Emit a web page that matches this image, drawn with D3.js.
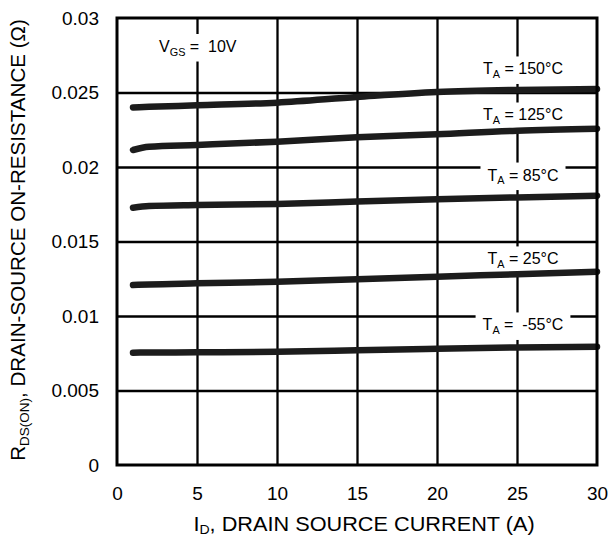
<!DOCTYPE html>
<html>
<head>
<meta charset="utf-8">
<script src="https://cdn.jsdelivr.net/npm/d3@7"></script>
<style>
  body { margin: 0; background: #fff; }
  svg { font-family: "Liberation Sans", Arial, sans-serif; }
</style>
</head>
<body>
<div id="chart"></div>
<script>
// drain current (A) where curves are sampled
const currents = [1, 2, 5, 10, 15, 20, 25, 30];
// on-resistance (ohm) per ambient temperature
const rds150 = [0.02400, 0.02404, 0.02414, 0.02432, 0.02470, 0.02503, 0.02517, 0.02523];
const rds125 = [0.02114, 0.02136, 0.02148, 0.02170, 0.02199, 0.02220, 0.02244, 0.02257];
const rds85 = [0.01727, 0.01738, 0.01745, 0.01752, 0.01768, 0.01783, 0.01796, 0.01807];
const rds25 = [0.01208, 0.01212, 0.01219, 0.01230, 0.01246, 0.01264, 0.01280, 0.01297];
const rdsM55 = [0.00754, 0.00755, 0.00756, 0.00760, 0.00770, 0.00780, 0.00789, 0.00794];
const tempLabels = ['150°C', '125°C', '85°C', '25°C', '\u00a0-55°C'];
const xTicks = [0, 5, 10, 15, 20, 25, 30];
const yTicks = [0, 0.005, 0.01, 0.015, 0.02, 0.025, 0.03];

const series = [rds150, rds125, rds85, rds25, rdsM55];

const width = 610, height = 536;
const margin = { top: 18, right: 13, bottom: 71, left: 117 };
const w = width - margin.left - margin.right;
const h = height - margin.top - margin.bottom;

const svg = d3.select('#chart').append('svg')
    .attr('width', width)
    .attr('height', height);

const chart = svg.append('g')
    .attr('transform', `translate(${margin.left},${margin.top})`);

const x = d3.scaleLinear().domain([0, 30]).range([0, w]);
const y = d3.scaleLinear().domain([0, 0.03]).range([h, 0]);

// gridlines
chart.append('g')
    .attr('transform', `translate(0,${h})`)
    .call(d3.axisBottom(x).tickValues(xTicks.slice(1, -1)).tickSize(h).tickFormat(''))
    .call(g => g.select('.domain').remove())
    .call(g => g.selectAll('line').attr('stroke', '#000').attr('stroke-width', 2.3).attr('y2', -h));

chart.append('g')
    .call(d3.axisLeft(y).tickValues(yTicks.slice(1, -1)).tickSize(-w).tickFormat(''))
    .call(g => g.select('.domain').remove())
    .call(g => g.selectAll('line').attr('stroke', '#000').attr('stroke-width', 2.3));

// tick labels
const xAxis = chart.append('g')
    .attr('transform', `translate(0,${h})`)
    .call(d3.axisBottom(x).tickValues(xTicks).tickSize(0).tickPadding(22).tickFormat(d3.format('d')));
xAxis.select('.domain').remove();
xAxis.selectAll('text').attr('font-size', 19).attr('fill', '#000').attr('font-family', null);

const yAxis = chart.append('g')
    .call(d3.axisLeft(y).tickValues(yTicks).tickSize(0).tickPadding(18).tickFormat(d => d === 0 ? '0' : String(+d.toFixed(3))));
yAxis.select('.domain').remove();
yAxis.selectAll('text').attr('font-size', 19).attr('fill', '#000').attr('font-family', null);

// labels with white boxes
function addLabel(cx, baseline, parts, size, anchor) {
    const g = chart.append('g');
    const t = g.append('text')
        .attr('x', cx).attr('y', baseline)
        .attr('font-size', size)
        .attr('text-anchor', anchor || 'middle')
        .attr('fill', '#000');
    parts.forEach(p => {
        const s = t.append('tspan').text(p.t);
        if (p.sub) s.attr('font-size', size * 0.68).attr('dy', size * 0.22);
        if (p.up) s.attr('dy', -size * 0.22);
    });
    const bb = t.node().getBBox();
    g.insert('rect', 'text')
        .attr('x', bb.x - 7).attr('y', bb.y - 4)
        .attr('width', bb.width + 14).attr('height', bb.height + 8)
        .attr('fill', '#fff');
}

addLabel(42, 34, [{ t: 'V' }, { t: 'GS', sub: true }, { t: ' = \u00a010V', up: true }], 16, 'start');

const labelX = x(25) + 6;
const labelY = [0.02658, 0.02349, 0.01946, 0.01383, 0.00940];
tempLabels.forEach((lab, i) => {
    addLabel(labelX, y(labelY[i]) + 5.5, [{ t: 'T' }, { t: 'A', sub: true }, { t: ' = ' + lab, up: true }], 16);
});

// curves
const line = d3.line()
    .x((d, i) => x(currents[i]))
    .y(d => y(d))
    .curve(d3.curveMonotoneX);

chart.selectAll('.curve')
    .data(series)
    .enter()
    .append('path')
    .classed('curve', true)
    .attr('d', line)
    .attr('fill', 'none')
    .attr('stroke', '#1c1c1c')
    .attr('stroke-width', 6.5)
    .attr('stroke-linecap', 'round');

// frame
chart.append('rect')
    .attr('width', w).attr('height', h)
    .attr('fill', 'none')
    .attr('stroke', '#000')
    .attr('stroke-width', 3);

// axis titles
const xt = svg.append('text')
    .attr('transform', 'translate(364,531) scale(1.085,1)')
    .attr('text-anchor', 'middle')
    .attr('font-size', 20);
xt.append('tspan').text('I');
xt.append('tspan').text('D').attr('font-size', 13).attr('dy', 3);
xt.append('tspan').text(', DRAIN SOURCE CURRENT (A)').attr('dy', -3);

const yt = svg.append('text')
    .attr('transform', 'translate(25,240) rotate(-90)')
    .attr('text-anchor', 'middle')
    .attr('font-size', 20.6);
yt.append('tspan').text('R');
yt.append('tspan').text('DS(ON)').attr('font-size', 13.5).attr('dy', 4);
yt.append('tspan').text(', DRAIN-SOURCE ON-RESISTANCE (Ω)').attr('dy', -4);
</script>
</body>
</html>
